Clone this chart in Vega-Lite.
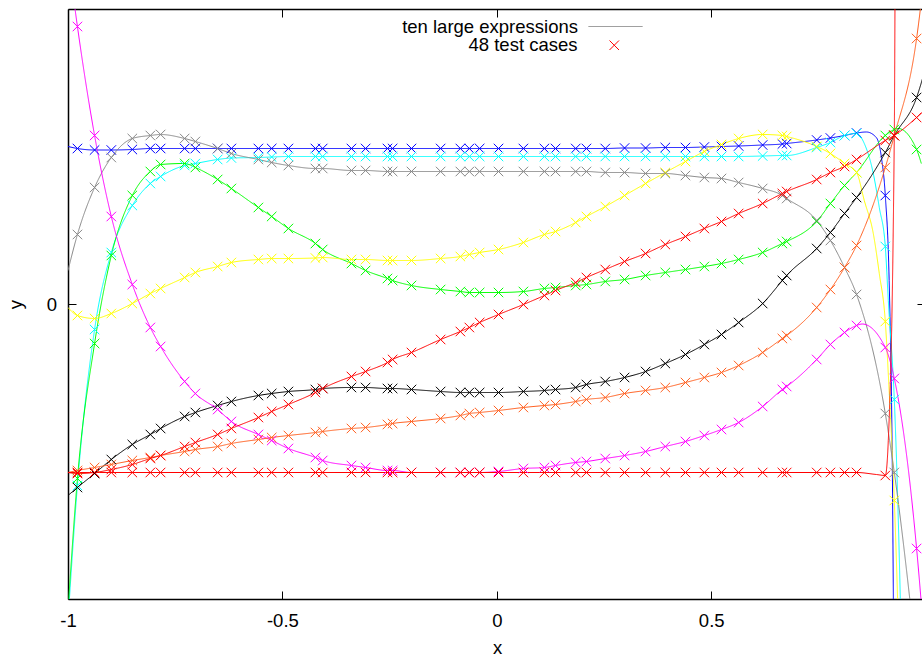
{
"$schema": "https://vega.github.io/schema/vega-lite/v6.json",
"width": 854, "height": 590,
"autosize": {"type": "none"},
"padding": {"left": 68, "top": 9, "right": 0, "bottom": 57},
"config": {
  "view": {"stroke": null},
  "font": "Liberation Sans",
  "axis": {"labelFont": "Liberation Sans", "labelFontSize": 18.5, "labelColor": "#000", "titleFont": "Liberation Sans", "titleFontSize": 18.5, "titleFontWeight": "normal", "titleColor": "#000", "domainColor": "#000", "domainWidth": 1.5, "tickColor": "#000", "tickWidth": 1, "grid": false, "labelFlush": false, "labelOverlap": false},
  "legend": {"labelFont": "Liberation Sans", "labelFontSize": 18.5, "labelColor": "#000", "labelLimit": 400, "padding": 0, "title": null}
},
"data": {"values": [
{"s":"bl","x":-0.978,"y":1.555,"t":1},{"s":"bl","x":-0.938,"y":1.540,"t":1},{"s":"bl","x":-0.899,"y":1.540,"t":1},{"s":"bl","x":-0.850,"y":1.545,"t":1},{"s":"bl","x":-0.808,"y":1.555,"t":1},{"s":"bl","x":-0.784,"y":1.555,"t":1},{"s":"bl","x":-0.728,"y":1.555,"t":1},{"s":"bl","x":-0.703,"y":1.555,"t":1},{"s":"bl","x":-0.651,"y":1.555,"t":1},{"s":"bl","x":-0.619,"y":1.555,"t":1},
{"s":"bl","x":-0.556,"y":1.555,"t":1},{"s":"bl","x":-0.525,"y":1.555,"t":1},{"s":"bl","x":-0.486,"y":1.555,"t":1},{"s":"bl","x":-0.423,"y":1.555,"t":1},{"s":"bl","x":-0.406,"y":1.555,"t":1},{"s":"bl","x":-0.339,"y":1.555,"t":1},{"s":"bl","x":-0.306,"y":1.555,"t":1},{"s":"bl","x":-0.255,"y":1.555,"t":1},{"s":"bl","x":-0.243,"y":1.555,"t":1},{"s":"bl","x":-0.199,"y":1.555,"t":1},
{"s":"bl","x":-0.131,"y":1.555,"t":1},{"s":"bl","x":-0.085,"y":1.555,"t":1},{"s":"bl","x":-0.064,"y":1.555,"t":1},{"s":"bl","x":-0.040,"y":1.555,"t":1},{"s":"bl","x":0.004,"y":1.555,"t":1},{"s":"bl","x":0.062,"y":1.555,"t":1},{"s":"bl","x":0.111,"y":1.555,"t":1},{"s":"bl","x":0.137,"y":1.555,"t":1},{"s":"bl","x":0.184,"y":1.555,"t":1},{"s":"bl","x":0.209,"y":1.555,"t":1},
{"s":"bl","x":0.253,"y":1.555,"t":1},{"s":"bl","x":0.298,"y":1.560,"t":1},{"s":"bl","x":0.347,"y":1.560,"t":1},{"s":"bl","x":0.393,"y":1.565,"t":1},{"s":"bl","x":0.440,"y":1.565,"t":1},{"s":"bl","x":0.484,"y":1.570,"t":1},{"s":"bl","x":0.524,"y":1.575,"t":1},{"s":"bl","x":0.564,"y":1.580,"t":1},{"s":"bl","x":0.620,"y":1.590,"t":1},{"s":"bl","x":0.666,"y":1.600,"t":1},
{"s":"bl","x":0.676,"y":1.605,"t":1},{"s":"bl","x":0.746,"y":1.640,"t":1},{"s":"bl","x":0.778,"y":1.660,"t":1},{"s":"bl","x":0.811,"y":1.685,"t":1},{"s":"bl","x":0.839,"y":1.710,"t":1},{"s":"bl","x":0.906,"y":1.085,"t":1},{"s":"bl","x":0.927,"y":-3.965,"t":1},{"s":"bl","x":0.979,"y":-12,"t":1},
{"s":"bl","x":-1.0,"y":1.575,"t":0},{"s":"bl","x":0.862,"y":1.720,"t":0},{"s":"bl","x":0.885,"y":1.665,"t":0},{"s":"bl","x":0.897,"y":1.465,"t":0},{"s":"bl","x":0.915,"y":0.235,"t":0},{"s":"bl","x":0.922,"y":-1.465,"t":0},

{"s":"cy","x":-0.978,"y":-1.815,"t":1},{"s":"cy","x":-0.938,"y":-0.255,"t":1},{"s":"cy","x":-0.899,"y":0.515,"t":1},{"s":"cy","x":-0.850,"y":0.985,"t":1},{"s":"cy","x":-0.808,"y":1.205,"t":1},{"s":"cy","x":-0.784,"y":1.275,"t":1},{"s":"cy","x":-0.728,"y":1.385,"t":1},{"s":"cy","x":-0.703,"y":1.405,"t":1},{"s":"cy","x":-0.651,"y":1.445,"t":1},{"s":"cy","x":-0.619,"y":1.460,"t":1},
{"s":"cy","x":-0.556,"y":1.465,"t":1},{"s":"cy","x":-0.525,"y":1.470,"t":1},{"s":"cy","x":-0.486,"y":1.475,"t":1},{"s":"cy","x":-0.423,"y":1.475,"t":1},{"s":"cy","x":-0.406,"y":1.475,"t":1},{"s":"cy","x":-0.339,"y":1.475,"t":1},{"s":"cy","x":-0.306,"y":1.475,"t":1},{"s":"cy","x":-0.255,"y":1.475,"t":1},{"s":"cy","x":-0.243,"y":1.475,"t":1},{"s":"cy","x":-0.199,"y":1.475,"t":1},
{"s":"cy","x":-0.131,"y":1.475,"t":1},{"s":"cy","x":-0.085,"y":1.475,"t":1},{"s":"cy","x":-0.064,"y":1.475,"t":1},{"s":"cy","x":-0.040,"y":1.475,"t":1},{"s":"cy","x":0.004,"y":1.475,"t":1},{"s":"cy","x":0.062,"y":1.475,"t":1},{"s":"cy","x":0.111,"y":1.475,"t":1},{"s":"cy","x":0.137,"y":1.475,"t":1},{"s":"cy","x":0.184,"y":1.475,"t":1},{"s":"cy","x":0.209,"y":1.475,"t":1},
{"s":"cy","x":0.253,"y":1.475,"t":1},{"s":"cy","x":0.298,"y":1.475,"t":1},{"s":"cy","x":0.347,"y":1.475,"t":1},{"s":"cy","x":0.393,"y":1.475,"t":1},{"s":"cy","x":0.440,"y":1.475,"t":1},{"s":"cy","x":0.484,"y":1.475,"t":1},{"s":"cy","x":0.524,"y":1.475,"t":1},{"s":"cy","x":0.564,"y":1.475,"t":1},{"s":"cy","x":0.620,"y":1.480,"t":1},{"s":"cy","x":0.666,"y":1.485,"t":1},
{"s":"cy","x":0.676,"y":1.485,"t":1},{"s":"cy","x":0.746,"y":1.565,"t":1},{"s":"cy","x":0.778,"y":1.615,"t":1},{"s":"cy","x":0.811,"y":1.685,"t":1},{"s":"cy","x":0.839,"y":1.705,"t":1},{"s":"cy","x":0.906,"y":0.575,"t":1},{"s":"cy","x":0.927,"y":-0.955,"t":1},{"s":"cy","x":0.979,"y":-12,"t":1},
{"s":"cy","x":-1.0,"y":-3.165,"t":0},{"s":"cy","x":0.857,"y":1.605,"t":0},{"s":"cy","x":0.878,"y":1.305,"t":0},{"s":"cy","x":0.892,"y":0.965,"t":0},{"s":"cy","x":0.913,"y":0.035,"t":0},

{"s":"gr","x":-0.978,"y":-1.745,"t":1},{"s":"gr","x":-0.938,"y":-0.395,"t":1},{"s":"gr","x":-0.899,"y":0.485,"t":1},{"s":"gr","x":-0.850,"y":1.085,"t":1},{"s":"gr","x":-0.808,"y":1.325,"t":1},{"s":"gr","x":-0.784,"y":1.395,"t":1},{"s":"gr","x":-0.728,"y":1.405,"t":1},{"s":"gr","x":-0.703,"y":1.365,"t":1},{"s":"gr","x":-0.651,"y":1.245,"t":1},{"s":"gr","x":-0.619,"y":1.155,"t":1},
{"s":"gr","x":-0.556,"y":0.965,"t":1},{"s":"gr","x":-0.525,"y":0.875,"t":1},{"s":"gr","x":-0.486,"y":0.755,"t":1},{"s":"gr","x":-0.423,"y":0.605,"t":1},{"s":"gr","x":-0.406,"y":0.545,"t":1},{"s":"gr","x":-0.339,"y":0.405,"t":1},{"s":"gr","x":-0.306,"y":0.335,"t":1},{"s":"gr","x":-0.255,"y":0.255,"t":1},{"s":"gr","x":-0.243,"y":0.235,"t":1},{"s":"gr","x":-0.199,"y":0.185,"t":1},
{"s":"gr","x":-0.131,"y":0.145,"t":1},{"s":"gr","x":-0.085,"y":0.125,"t":1},{"s":"gr","x":-0.064,"y":0.115,"t":1},{"s":"gr","x":-0.040,"y":0.115,"t":1},{"s":"gr","x":0.004,"y":0.115,"t":1},{"s":"gr","x":0.062,"y":0.125,"t":1},{"s":"gr","x":0.111,"y":0.155,"t":1},{"s":"gr","x":0.137,"y":0.165,"t":1},{"s":"gr","x":0.184,"y":0.185,"t":1},{"s":"gr","x":0.209,"y":0.195,"t":1},
{"s":"gr","x":0.253,"y":0.225,"t":1},{"s":"gr","x":0.298,"y":0.245,"t":1},{"s":"gr","x":0.347,"y":0.285,"t":1},{"s":"gr","x":0.393,"y":0.315,"t":1},{"s":"gr","x":0.440,"y":0.345,"t":1},{"s":"gr","x":0.484,"y":0.375,"t":1},{"s":"gr","x":0.524,"y":0.405,"t":1},{"s":"gr","x":0.564,"y":0.445,"t":1},{"s":"gr","x":0.620,"y":0.515,"t":1},{"s":"gr","x":0.666,"y":0.605,"t":1},
{"s":"gr","x":0.676,"y":0.625,"t":1},{"s":"gr","x":0.746,"y":0.825,"t":1},{"s":"gr","x":0.778,"y":1.005,"t":1},{"s":"gr","x":0.811,"y":1.185,"t":1},{"s":"gr","x":0.839,"y":1.315,"t":1},{"s":"gr","x":0.906,"y":1.685,"t":1},{"s":"gr","x":0.927,"y":1.745,"t":1},{"s":"gr","x":0.979,"y":1.545,"t":1},
{"s":"gr","x":-1.0,"y":-3.065,"t":0},{"s":"gr","x":0.936,"y":1.755,"t":0},{"s":"gr","x":0.99,"y":1.405,"t":0},

{"s":"ye","x":-0.978,"y":-0.115,"t":1},{"s":"ye","x":-0.938,"y":-0.145,"t":1},{"s":"ye","x":-0.899,"y":-0.095,"t":1},{"s":"ye","x":-0.850,"y":0.005,"t":1},{"s":"ye","x":-0.808,"y":0.105,"t":1},{"s":"ye","x":-0.784,"y":0.155,"t":1},{"s":"ye","x":-0.728,"y":0.265,"t":1},{"s":"ye","x":-0.703,"y":0.315,"t":1},{"s":"ye","x":-0.651,"y":0.375,"t":1},{"s":"ye","x":-0.619,"y":0.415,"t":1},
{"s":"ye","x":-0.556,"y":0.445,"t":1},{"s":"ye","x":-0.525,"y":0.455,"t":1},{"s":"ye","x":-0.486,"y":0.455,"t":1},{"s":"ye","x":-0.423,"y":0.460,"t":1},{"s":"ye","x":-0.406,"y":0.465,"t":1},{"s":"ye","x":-0.339,"y":0.445,"t":1},{"s":"ye","x":-0.306,"y":0.445,"t":1},{"s":"ye","x":-0.255,"y":0.435,"t":1},{"s":"ye","x":-0.243,"y":0.435,"t":1},{"s":"ye","x":-0.199,"y":0.435,"t":1},
{"s":"ye","x":-0.131,"y":0.455,"t":1},{"s":"ye","x":-0.085,"y":0.475,"t":1},{"s":"ye","x":-0.064,"y":0.495,"t":1},{"s":"ye","x":-0.040,"y":0.515,"t":1},{"s":"ye","x":0.004,"y":0.545,"t":1},{"s":"ye","x":0.062,"y":0.615,"t":1},{"s":"ye","x":0.111,"y":0.695,"t":1},{"s":"ye","x":0.137,"y":0.725,"t":1},{"s":"ye","x":0.184,"y":0.815,"t":1},{"s":"ye","x":0.209,"y":0.875,"t":1},
{"s":"ye","x":0.253,"y":0.975,"t":1},{"s":"ye","x":0.298,"y":1.085,"t":1},{"s":"ye","x":0.347,"y":1.205,"t":1},{"s":"ye","x":0.393,"y":1.315,"t":1},{"s":"ye","x":0.440,"y":1.425,"t":1},{"s":"ye","x":0.484,"y":1.525,"t":1},{"s":"ye","x":0.524,"y":1.595,"t":1},{"s":"ye","x":0.564,"y":1.655,"t":1},{"s":"ye","x":0.620,"y":1.695,"t":1},{"s":"ye","x":0.666,"y":1.685,"t":1},
{"s":"ye","x":0.676,"y":1.675,"t":1},{"s":"ye","x":0.746,"y":1.575,"t":1},{"s":"ye","x":0.778,"y":1.505,"t":1},{"s":"ye","x":0.811,"y":1.405,"t":1},{"s":"ye","x":0.839,"y":1.315,"t":1},{"s":"ye","x":0.906,"y":-0.175,"t":1},{"s":"ye","x":0.927,"y":-1.965,"t":1},{"s":"ye","x":0.979,"y":-12,"t":1},
{"s":"ye","x":-1.0,"y":-0.035,"t":0},{"s":"ye","x":0.857,"y":1.035,"t":0},{"s":"ye","x":0.878,"y":0.705,"t":0},{"s":"ye","x":0.892,"y":0.305,"t":0},{"s":"ye","x":0.915,"y":-0.865,"t":0},

{"s":"gy","x":-0.978,"y":0.695,"t":1},{"s":"gy","x":-0.938,"y":1.165,"t":1},{"s":"gy","x":-0.899,"y":1.465,"t":1},{"s":"gy","x":-0.850,"y":1.655,"t":1},{"s":"gy","x":-0.808,"y":1.685,"t":1},{"s":"gy","x":-0.784,"y":1.695,"t":1},{"s":"gy","x":-0.728,"y":1.655,"t":1},{"s":"gy","x":-0.703,"y":1.625,"t":1},{"s":"gy","x":-0.651,"y":1.555,"t":1},{"s":"gy","x":-0.619,"y":1.505,"t":1},
{"s":"gy","x":-0.556,"y":1.445,"t":1},{"s":"gy","x":-0.525,"y":1.415,"t":1},{"s":"gy","x":-0.486,"y":1.385,"t":1},{"s":"gy","x":-0.423,"y":1.355,"t":1},{"s":"gy","x":-0.406,"y":1.355,"t":1},{"s":"gy","x":-0.339,"y":1.335,"t":1},{"s":"gy","x":-0.306,"y":1.335,"t":1},{"s":"gy","x":-0.255,"y":1.325,"t":1},{"s":"gy","x":-0.243,"y":1.325,"t":1},{"s":"gy","x":-0.199,"y":1.325,"t":1},
{"s":"gy","x":-0.131,"y":1.325,"t":1},{"s":"gy","x":-0.085,"y":1.325,"t":1},{"s":"gy","x":-0.064,"y":1.325,"t":1},{"s":"gy","x":-0.040,"y":1.325,"t":1},{"s":"gy","x":0.004,"y":1.325,"t":1},{"s":"gy","x":0.062,"y":1.325,"t":1},{"s":"gy","x":0.111,"y":1.325,"t":1},{"s":"gy","x":0.137,"y":1.325,"t":1},{"s":"gy","x":0.184,"y":1.325,"t":1},{"s":"gy","x":0.209,"y":1.325,"t":1},
{"s":"gy","x":0.253,"y":1.315,"t":1},{"s":"gy","x":0.298,"y":1.315,"t":1},{"s":"gy","x":0.347,"y":1.305,"t":1},{"s":"gy","x":0.393,"y":1.305,"t":1},{"s":"gy","x":0.440,"y":1.285,"t":1},{"s":"gy","x":0.484,"y":1.265,"t":1},{"s":"gy","x":0.524,"y":1.255,"t":1},{"s":"gy","x":0.564,"y":1.215,"t":1},{"s":"gy","x":0.620,"y":1.155,"t":1},{"s":"gy","x":0.666,"y":1.085,"t":1},
{"s":"gy","x":0.676,"y":1.055,"t":1},{"s":"gy","x":0.746,"y":0.835,"t":1},{"s":"gy","x":0.778,"y":0.635,"t":1},{"s":"gy","x":0.811,"y":0.365,"t":1},{"s":"gy","x":0.839,"y":0.095,"t":1},{"s":"gy","x":0.906,"y":-1.095,"t":1},{"s":"gy","x":0.927,"y":-1.685,"t":1},{"s":"gy","x":0.979,"y":-3.565,"t":1},
{"s":"gy","x":-1.0,"y":0.335,"t":0},

{"s":"mg","x":-0.978,"y":2.775,"t":1},{"s":"mg","x":-0.938,"y":1.685,"t":1},{"s":"mg","x":-0.899,"y":0.875,"t":1},{"s":"mg","x":-0.850,"y":0.195,"t":1},{"s":"mg","x":-0.808,"y":-0.235,"t":1},{"s":"mg","x":-0.784,"y":-0.425,"t":1},{"s":"mg","x":-0.728,"y":-0.775,"t":1},{"s":"mg","x":-0.703,"y":-0.895,"t":1},{"s":"mg","x":-0.651,"y":-1.055,"t":1},{"s":"mg","x":-0.619,"y":-1.175,"t":1},
{"s":"mg","x":-0.556,"y":-1.305,"t":1},{"s":"mg","x":-0.525,"y":-1.365,"t":1},{"s":"mg","x":-0.486,"y":-1.445,"t":1},{"s":"mg","x":-0.423,"y":-1.535,"t":1},{"s":"mg","x":-0.406,"y":-1.565,"t":1},{"s":"mg","x":-0.339,"y":-1.615,"t":1},{"s":"mg","x":-0.306,"y":-1.635,"t":1},{"s":"mg","x":-0.255,"y":-1.665,"t":1},{"s":"mg","x":-0.243,"y":-1.665,"t":1},{"s":"mg","x":-0.199,"y":-1.685,"t":1},
{"s":"mg","x":-0.131,"y":-1.685,"t":1},{"s":"mg","x":-0.085,"y":-1.685,"t":1},{"s":"mg","x":-0.064,"y":-1.685,"t":1},{"s":"mg","x":-0.040,"y":-1.685,"t":1},{"s":"mg","x":0.004,"y":-1.675,"t":1},{"s":"mg","x":0.062,"y":-1.645,"t":1},{"s":"mg","x":0.111,"y":-1.635,"t":1},{"s":"mg","x":0.137,"y":-1.615,"t":1},{"s":"mg","x":0.184,"y":-1.585,"t":1},{"s":"mg","x":0.209,"y":-1.575,"t":1},
{"s":"mg","x":0.253,"y":-1.545,"t":1},{"s":"mg","x":0.298,"y":-1.515,"t":1},{"s":"mg","x":0.347,"y":-1.475,"t":1},{"s":"mg","x":0.393,"y":-1.425,"t":1},{"s":"mg","x":0.440,"y":-1.375,"t":1},{"s":"mg","x":0.484,"y":-1.315,"t":1},{"s":"mg","x":0.524,"y":-1.255,"t":1},{"s":"mg","x":0.564,"y":-1.185,"t":1},{"s":"mg","x":0.620,"y":-1.025,"t":1},{"s":"mg","x":0.666,"y":-0.855,"t":1},
{"s":"mg","x":0.676,"y":-0.825,"t":1},{"s":"mg","x":0.746,"y":-0.555,"t":1},{"s":"mg","x":0.778,"y":-0.405,"t":1},{"s":"mg","x":0.811,"y":-0.285,"t":1},{"s":"mg","x":0.839,"y":-0.215,"t":1},{"s":"mg","x":0.906,"y":-0.435,"t":1},{"s":"mg","x":0.927,"y":-0.745,"t":1},{"s":"mg","x":0.979,"y":-2.445,"t":1},
{"s":"mg","x":-1.0,"y":3.485,"t":0},{"s":"mg","x":0.852,"y":-0.200,"t":0},{"s":"mg","x":0.997,"y":-3.365,"t":0},

{"s":"bk","x":-0.978,"y":-1.835,"t":1},{"s":"bk","x":-0.938,"y":-1.695,"t":1},{"s":"bk","x":-0.899,"y":-1.555,"t":1},{"s":"bk","x":-0.850,"y":-1.405,"t":1},{"s":"bk","x":-0.808,"y":-1.305,"t":1},{"s":"bk","x":-0.784,"y":-1.245,"t":1},{"s":"bk","x":-0.728,"y":-1.125,"t":1},{"s":"bk","x":-0.703,"y":-1.085,"t":1},{"s":"bk","x":-0.651,"y":-1.015,"t":1},{"s":"bk","x":-0.619,"y":-0.975,"t":1},
{"s":"bk","x":-0.556,"y":-0.915,"t":1},{"s":"bk","x":-0.525,"y":-0.895,"t":1},{"s":"bk","x":-0.486,"y":-0.875,"t":1},{"s":"bk","x":-0.423,"y":-0.855,"t":1},{"s":"bk","x":-0.406,"y":-0.845,"t":1},{"s":"bk","x":-0.339,"y":-0.835,"t":1},{"s":"bk","x":-0.306,"y":-0.835,"t":1},{"s":"bk","x":-0.255,"y":-0.845,"t":1},{"s":"bk","x":-0.243,"y":-0.845,"t":1},{"s":"bk","x":-0.199,"y":-0.855,"t":1},
{"s":"bk","x":-0.131,"y":-0.875,"t":1},{"s":"bk","x":-0.085,"y":-0.885,"t":1},{"s":"bk","x":-0.064,"y":-0.885,"t":1},{"s":"bk","x":-0.040,"y":-0.885,"t":1},{"s":"bk","x":0.004,"y":-0.885,"t":1},{"s":"bk","x":0.062,"y":-0.875,"t":1},{"s":"bk","x":0.111,"y":-0.865,"t":1},{"s":"bk","x":0.137,"y":-0.855,"t":1},{"s":"bk","x":0.184,"y":-0.835,"t":1},{"s":"bk","x":0.209,"y":-0.805,"t":1},
{"s":"bk","x":0.253,"y":-0.775,"t":1},{"s":"bk","x":0.298,"y":-0.735,"t":1},{"s":"bk","x":0.347,"y":-0.675,"t":1},{"s":"bk","x":0.393,"y":-0.595,"t":1},{"s":"bk","x":0.440,"y":-0.505,"t":1},{"s":"bk","x":0.484,"y":-0.405,"t":1},{"s":"bk","x":0.524,"y":-0.305,"t":1},{"s":"bk","x":0.564,"y":-0.185,"t":1},{"s":"bk","x":0.620,"y":0.005,"t":1},{"s":"bk","x":0.666,"y":0.235,"t":1},
{"s":"bk","x":0.676,"y":0.285,"t":1},{"s":"bk","x":0.746,"y":0.555,"t":1},{"s":"bk","x":0.778,"y":0.715,"t":1},{"s":"bk","x":0.811,"y":0.905,"t":1},{"s":"bk","x":0.839,"y":1.065,"t":1},{"s":"bk","x":0.906,"y":1.515,"t":1},{"s":"bk","x":0.927,"y":1.685,"t":1},{"s":"bk","x":0.979,"y":2.065,"t":1},
{"s":"bk","x":-1.0,"y":-1.915,"t":0},{"s":"bk","x":0.997,"y":2.315,"t":0},

{"s":"or","x":-0.978,"y":-1.665,"t":1},{"s":"or","x":-0.938,"y":-1.635,"t":1},{"s":"or","x":-0.899,"y":-1.605,"t":1},{"s":"or","x":-0.850,"y":-1.565,"t":1},{"s":"or","x":-0.808,"y":-1.535,"t":1},{"s":"or","x":-0.784,"y":-1.515,"t":1},{"s":"or","x":-0.728,"y":-1.475,"t":1},{"s":"or","x":-0.703,"y":-1.455,"t":1},{"s":"or","x":-0.651,"y":-1.425,"t":1},{"s":"or","x":-0.619,"y":-1.395,"t":1},
{"s":"or","x":-0.556,"y":-1.355,"t":1},{"s":"or","x":-0.525,"y":-1.335,"t":1},{"s":"or","x":-0.486,"y":-1.315,"t":1},{"s":"or","x":-0.423,"y":-1.285,"t":1},{"s":"or","x":-0.406,"y":-1.275,"t":1},{"s":"or","x":-0.339,"y":-1.245,"t":1},{"s":"or","x":-0.306,"y":-1.235,"t":1},{"s":"or","x":-0.255,"y":-1.205,"t":1},{"s":"or","x":-0.243,"y":-1.195,"t":1},{"s":"or","x":-0.199,"y":-1.175,"t":1},
{"s":"or","x":-0.131,"y":-1.145,"t":1},{"s":"or","x":-0.085,"y":-1.115,"t":1},{"s":"or","x":-0.064,"y":-1.095,"t":1},{"s":"or","x":-0.040,"y":-1.085,"t":1},{"s":"or","x":0.004,"y":-1.065,"t":1},{"s":"or","x":0.062,"y":-1.035,"t":1},{"s":"or","x":0.111,"y":-1.015,"t":1},{"s":"or","x":0.137,"y":-1.005,"t":1},{"s":"or","x":0.184,"y":-0.975,"t":1},{"s":"or","x":0.209,"y":-0.955,"t":1},
{"s":"or","x":0.253,"y":-0.935,"t":1},{"s":"or","x":0.298,"y":-0.895,"t":1},{"s":"or","x":0.347,"y":-0.865,"t":1},{"s":"or","x":0.393,"y":-0.835,"t":1},{"s":"or","x":0.440,"y":-0.785,"t":1},{"s":"or","x":0.484,"y":-0.735,"t":1},{"s":"or","x":0.524,"y":-0.685,"t":1},{"s":"or","x":0.564,"y":-0.615,"t":1},{"s":"or","x":0.620,"y":-0.485,"t":1},{"s":"or","x":0.666,"y":-0.345,"t":1},
{"s":"or","x":0.676,"y":-0.315,"t":1},{"s":"or","x":0.746,"y":-0.035,"t":1},{"s":"or","x":0.778,"y":0.145,"t":1},{"s":"or","x":0.811,"y":0.365,"t":1},{"s":"or","x":0.839,"y":0.585,"t":1},{"s":"or","x":0.906,"y":1.365,"t":1},{"s":"or","x":0.927,"y":1.685,"t":1},{"s":"or","x":0.979,"y":2.655,"t":1},
{"s":"or","x":-1.0,"y":-1.685,"t":0},{"s":"or","x":0.997,"y":3.285,"t":0},

{"s":"r1","x":-0.978,"y":-1.695,"t":1},{"s":"r1","x":-0.938,"y":-1.685,"t":1},{"s":"r1","x":-0.899,"y":-1.655,"t":1},{"s":"r1","x":-0.850,"y":-1.605,"t":1},{"s":"r1","x":-0.808,"y":-1.545,"t":1},{"s":"r1","x":-0.784,"y":-1.515,"t":1},{"s":"r1","x":-0.728,"y":-1.425,"t":1},{"s":"r1","x":-0.703,"y":-1.385,"t":1},{"s":"r1","x":-0.651,"y":-1.305,"t":1},{"s":"r1","x":-0.619,"y":-1.245,"t":1},
{"s":"r1","x":-0.556,"y":-1.135,"t":1},{"s":"r1","x":-0.525,"y":-1.075,"t":1},{"s":"r1","x":-0.486,"y":-1.005,"t":1},{"s":"r1","x":-0.423,"y":-0.885,"t":1},{"s":"r1","x":-0.406,"y":-0.845,"t":1},{"s":"r1","x":-0.339,"y":-0.725,"t":1},{"s":"r1","x":-0.306,"y":-0.675,"t":1},{"s":"r1","x":-0.255,"y":-0.585,"t":1},{"s":"r1","x":-0.243,"y":-0.555,"t":1},{"s":"r1","x":-0.199,"y":-0.485,"t":1},
{"s":"r1","x":-0.131,"y":-0.355,"t":1},{"s":"r1","x":-0.085,"y":-0.275,"t":1},{"s":"r1","x":-0.064,"y":-0.235,"t":1},{"s":"r1","x":-0.040,"y":-0.185,"t":1},{"s":"r1","x":0.004,"y":-0.105,"t":1},{"s":"r1","x":0.062,"y":-0.005,"t":1},{"s":"r1","x":0.111,"y":0.085,"t":1},{"s":"r1","x":0.137,"y":0.135,"t":1},{"s":"r1","x":0.184,"y":0.215,"t":1},{"s":"r1","x":0.209,"y":0.265,"t":1},
{"s":"r1","x":0.253,"y":0.345,"t":1},{"s":"r1","x":0.298,"y":0.425,"t":1},{"s":"r1","x":0.347,"y":0.505,"t":1},{"s":"r1","x":0.393,"y":0.595,"t":1},{"s":"r1","x":0.440,"y":0.675,"t":1},{"s":"r1","x":0.484,"y":0.755,"t":1},{"s":"r1","x":0.524,"y":0.825,"t":1},{"s":"r1","x":0.564,"y":0.905,"t":1},{"s":"r1","x":0.620,"y":1.005,"t":1},{"s":"r1","x":0.666,"y":1.105,"t":1},
{"s":"r1","x":0.676,"y":1.125,"t":1},{"s":"r1","x":0.746,"y":1.245,"t":1},{"s":"r1","x":0.778,"y":1.315,"t":1},{"s":"r1","x":0.811,"y":1.375,"t":1},{"s":"r1","x":0.839,"y":1.445,"t":1},{"s":"r1","x":0.906,"y":1.635,"t":1},{"s":"r1","x":0.927,"y":1.685,"t":1},{"s":"r1","x":0.979,"y":1.865,"t":1},
{"s":"r1","x":-1.0,"y":-1.685,"t":0},{"s":"r1","x":0.997,"y":1.935,"t":0},

{"s":"r2","x":-0.978,"y":-1.685,"t":1},{"s":"r2","x":-0.938,"y":-1.685,"t":1},{"s":"r2","x":-0.899,"y":-1.685,"t":1},{"s":"r2","x":-0.850,"y":-1.685,"t":1},{"s":"r2","x":-0.808,"y":-1.685,"t":1},{"s":"r2","x":-0.784,"y":-1.685,"t":1},{"s":"r2","x":-0.728,"y":-1.685,"t":1},{"s":"r2","x":-0.703,"y":-1.685,"t":1},{"s":"r2","x":-0.651,"y":-1.685,"t":1},{"s":"r2","x":-0.619,"y":-1.685,"t":1},
{"s":"r2","x":-0.556,"y":-1.685,"t":1},{"s":"r2","x":-0.525,"y":-1.685,"t":1},{"s":"r2","x":-0.486,"y":-1.685,"t":1},{"s":"r2","x":-0.423,"y":-1.685,"t":1},{"s":"r2","x":-0.406,"y":-1.685,"t":1},{"s":"r2","x":-0.339,"y":-1.685,"t":1},{"s":"r2","x":-0.306,"y":-1.685,"t":1},{"s":"r2","x":-0.255,"y":-1.685,"t":1},{"s":"r2","x":-0.243,"y":-1.685,"t":1},{"s":"r2","x":-0.199,"y":-1.685,"t":1},
{"s":"r2","x":-0.131,"y":-1.685,"t":1},{"s":"r2","x":-0.085,"y":-1.685,"t":1},{"s":"r2","x":-0.064,"y":-1.685,"t":1},{"s":"r2","x":-0.040,"y":-1.685,"t":1},{"s":"r2","x":0.004,"y":-1.685,"t":1},{"s":"r2","x":0.062,"y":-1.685,"t":1},{"s":"r2","x":0.111,"y":-1.685,"t":1},{"s":"r2","x":0.137,"y":-1.685,"t":1},{"s":"r2","x":0.184,"y":-1.685,"t":1},{"s":"r2","x":0.209,"y":-1.685,"t":1},
{"s":"r2","x":0.253,"y":-1.685,"t":1},{"s":"r2","x":0.298,"y":-1.685,"t":1},{"s":"r2","x":0.347,"y":-1.685,"t":1},{"s":"r2","x":0.393,"y":-1.685,"t":1},{"s":"r2","x":0.440,"y":-1.685,"t":1},{"s":"r2","x":0.484,"y":-1.685,"t":1},{"s":"r2","x":0.524,"y":-1.685,"t":1},{"s":"r2","x":0.564,"y":-1.685,"t":1},{"s":"r2","x":0.620,"y":-1.685,"t":1},{"s":"r2","x":0.666,"y":-1.685,"t":1},
{"s":"r2","x":0.676,"y":-1.685,"t":1},{"s":"r2","x":0.746,"y":-1.685,"t":1},{"s":"r2","x":0.778,"y":-1.685,"t":1},{"s":"r2","x":0.811,"y":-1.685,"t":1},{"s":"r2","x":0.839,"y":-1.685,"t":1},{"s":"r2","x":0.906,"y":-1.715,"t":1},{"s":"r2","x":0.927,"y":1.685,"t":1},{"s":"r2","x":0.979,"y":11,"t":1},
{"s":"r2","x":-1.0,"y":-1.685,"t":0},{"s":"r2","x":0.885,"y":-1.705,"t":0},{"s":"r2","x":0.913,"y":-1.365,"t":0},{"s":"r2","x":0.930,"y":4.035,"t":0}
]},
"layer": [
  {
    "mark": {"type": "line", "interpolate": "monotone", "clip": true, "strokeWidth": 1},
    "encoding": {
      "x": {"field": "x", "type": "quantitative", "scale": {"domain": [-1, 0.9916], "nice": false, "zero": false},
            "axis": {"orient": "bottom", "values": [-1, -0.5, 0, 0.5], "labelExpr": "'' + datum.value", "tickSize": -8, "labelPadding": 20.5, "title": "x", "titleX": 429, "titleY": 48, "titleBaseline": "middle", "titleAlign": "center", "titleAnchor": null}},
      "y": {"field": "y", "type": "quantitative", "scale": {"domain": [-2.95, 2.95], "nice": false, "zero": false},
            "axis": {"orient": "left", "values": [0], "labelExpr": "'' + datum.value", "tickSize": -8, "labelPadding": 19.5, "title": "y", "titleX": -53, "titleY": 295, "titleAngle": -90, "titleBaseline": "middle", "titleAlign": "center", "titleAnchor": null}},
      "color": {"field": "s", "type": "nominal", "scale": {"domain": ["r1","r2","gr","bl","mg","cy","ye","bk","or","gy"], "range": ["#ff0000","#ff0000","#00ff00","#0000ff","#ff00ff","#00ffff","#ffff00","#000000","#ff6020","#888888"]}, "legend": null},
      "strokeDash": {"datum": "ten large expressions", "type": "nominal", "scale": {"range": [[1, 0]]},
            "legend": {"orient": "none", "legendX": 520, "legendY": -10, "symbolType": "stroke", "symbolSize": 2916, "symbolStrokeColor": "#808080", "symbolStrokeWidth": 1, "labelAlign": "right", "labelOffset": -65,
                       "encode": {"symbols": {"update": {"stroke": {"value": "#808080"}, "strokeDash": {"value": [1, 0]}}}}}}
    }
  },
  {
    "transform": [{"filter": "datum.t == 1"}],
    "mark": {"type": "point", "filled": false, "clip": true, "strokeWidth": 1, "size": 90, "opacity": 1},
    "encoding": {
      "x": {"field": "x", "type": "quantitative", "axis": {"orient": "top", "values": [-1, -0.5, 0, 0.5], "labels": false, "tickSize": -8, "title": null}},
      "y": {"field": "y", "type": "quantitative", "axis": {"orient": "right", "values": [0], "labels": false, "domain": false, "tickSize": -5, "title": null}},
      "color": {"field": "s", "type": "nominal", "legend": null},
      "shape": {"datum": "48 test cases", "type": "nominal", "scale": {"range": ["M-1,-1L1,1M-1,1L1,-1"]},
            "legend": {"orient": "none", "legendX": 537, "legendY": 27, "symbolSize": 90, "symbolStrokeColor": "#ff0000", "symbolFillColor": "transparent", "symbolStrokeWidth": 1, "labelAlign": "right", "labelOffset": -46,
                       "encode": {"symbols": {"update": {"stroke": {"value": "#ff0000"}, "fill": {"value": "transparent"}, "opacity": {"value": 1}}}}}}
    }
  }
]
}
